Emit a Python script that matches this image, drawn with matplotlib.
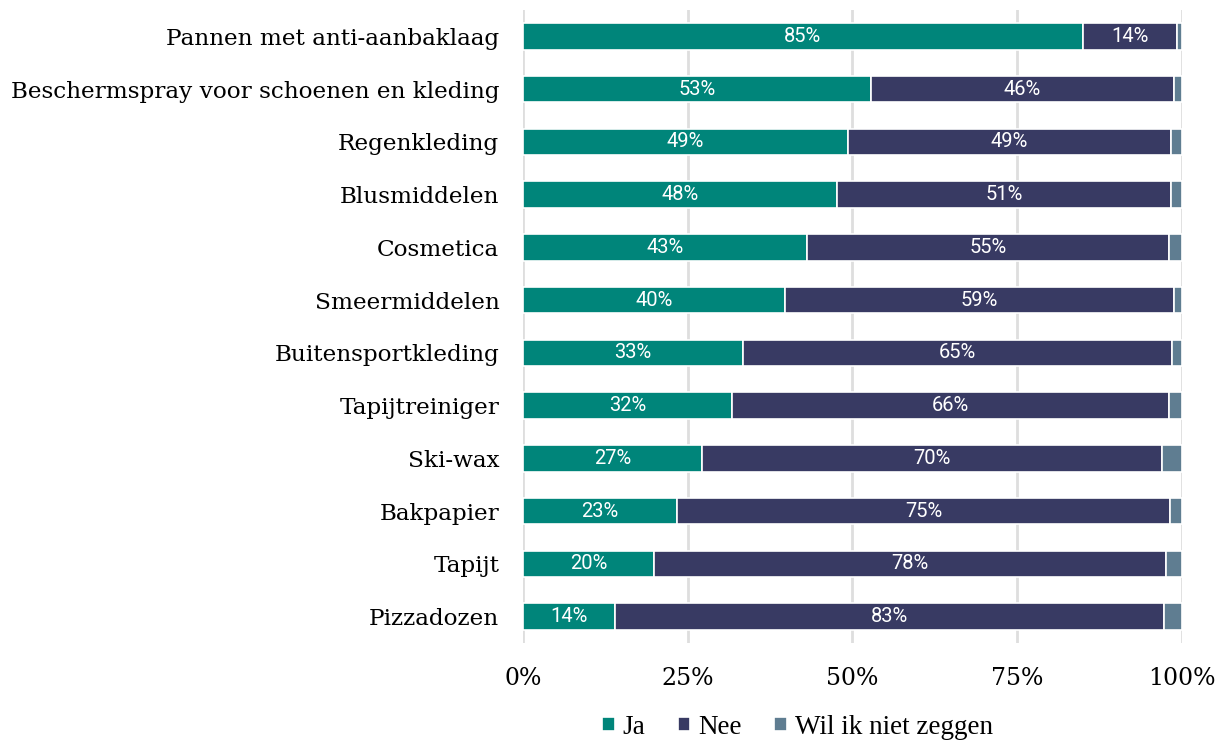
import numpy as np
import matplotlib
matplotlib.use('Agg')
import matplotlib.pyplot as plt

## data (percent)
categories = ['Pannen met anti-aanbaklaag', 'Beschermspray voor schoenen en kleding',
              'Regenkleding', 'Blusmiddelen', 'Cosmetica', 'Smeermiddelen',
              'Buitensportkleding', 'Tapijtreiniger', 'Ski-wax', 'Bakpapier',
              'Tapijt', 'Pizzadozen']
ja = [85.0, 52.8, 49.3, 47.6, 43.1, 39.8, 33.4, 31.7, 27.2, 23.4, 19.9, 14.0]
nee = [14.2, 46.0, 49.0, 50.8, 54.9, 59.0, 65.1, 66.3, 69.8, 74.8, 77.7, 83.3]
wil_niet = [0.8, 1.2, 1.7, 1.6, 2.0, 1.2, 1.5, 2.0, 3.0, 1.8, 2.4, 2.7]
ja_lbl = [85, 53, 49, 48, 43, 40, 33, 32, 27, 23, 20, 14]
nee_lbl = [14, 46, 49, 51, 55, 59, 65, 66, 70, 75, 78, 83]

series = ['Ja', 'Nee', 'Wil ik niet zeggen']
colors = ['#00857a', '#383a63', '#5f7d91']

fig = plt.figure(figsize=(12.27, 7.42), dpi=100)
ax = fig.add_axes([0.4262, 0.1334, 0.5370, 0.8531])

y = np.arange(len(categories))
left = np.zeros(len(categories))
for vals, c, name in zip([ja, nee, wil_niet], colors, series):
    ax.barh(y, vals, left=left, height=0.5, color=c, edgecolor='white',
            linewidth=1.2, label=name, zorder=3)
    left = left + np.array(vals)

## labels inside the bars
for i in range(len(categories)):
    ax.text(ja[i] / 2, i, '%d%%' % ja_lbl[i], ha='center', va='center',
            color='white', fontsize=14.5, family='Roboto', zorder=4)
    ax.text(ja[i] + nee[i] / 2, i, '%d%%' % nee_lbl[i], ha='center', va='center',
            color='white', fontsize=14.5, family='Roboto', zorder=4)

ax.set_xlim(0, 100)
ax.set_ylim(11.5, -0.5)
ax.set_xticks([0, 25, 50, 75, 100])
ax.set_xticklabels(['0%', '25%', '50%', '75%', '100%'], family='DejaVu Serif', fontsize=17)
ax.set_yticks(y)
ax.set_yticklabels(categories, family='DejaVu Serif', fontsize=16.7)
ax.tick_params(length=0)
ax.tick_params(axis='x', pad=17)
ax.tick_params(axis='y', pad=17)
ax.xaxis.grid(True, color='#dedede', linewidth=2, zorder=0)
ax.set_axisbelow(True)
for s in ax.spines.values():
    s.set_visible(False)

fig.legend(loc='center', bbox_to_anchor=(0.65, 0.02), ncol=3, frameon=False,
           prop={'family': 'Liberation Serif', 'size': 19.5}, handlelength=0.45,
           handleheight=0.45, handletextpad=0.3, columnspacing=1.2)

fig.savefig('out.png', dpi=100)
